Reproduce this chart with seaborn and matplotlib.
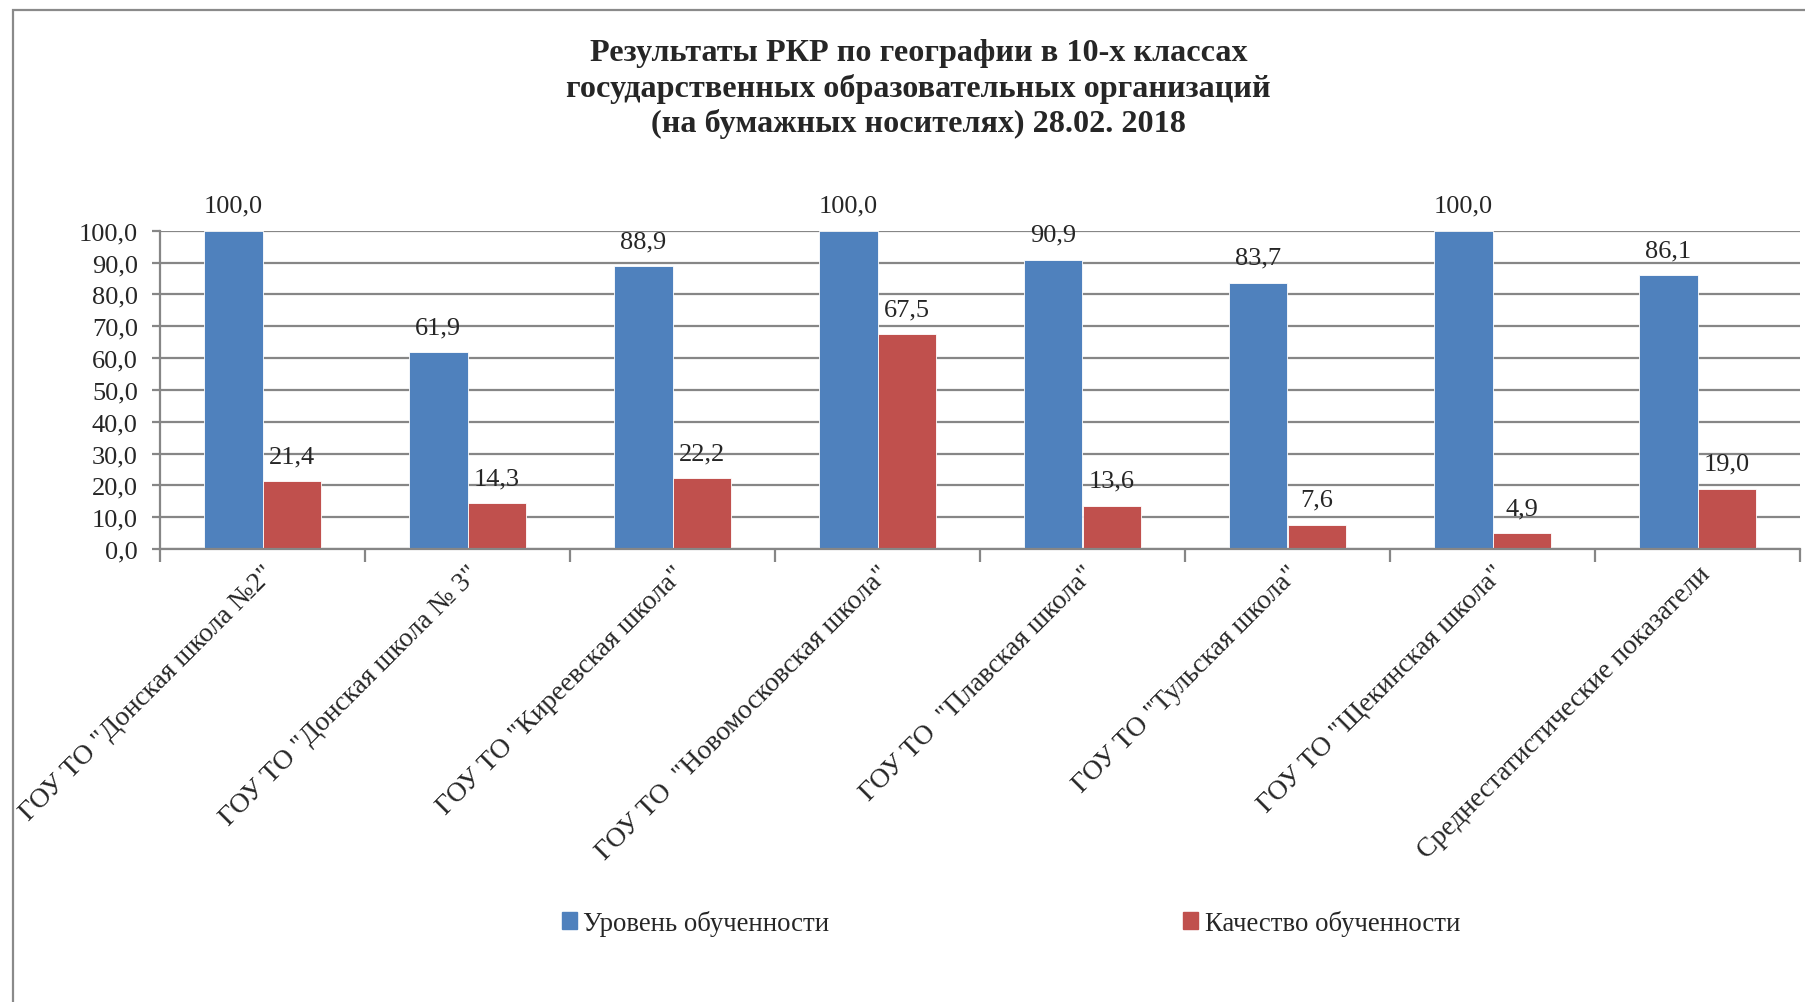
import pandas as pd
import seaborn as sns
import matplotlib.pyplot as plt
import matplotlib.ticker as ticker
from matplotlib.patches import Rectangle
from matplotlib.transforms import ScaledTranslation

schools = [
    'ГОУ ТО "Донская школа №2"',
    'ГОУ ТО "Донская школа № 3"',
    'ГОУ ТО "Киреевская школа"',
    'ГОУ ТО  "Новомосковская школа"',
    'ГОУ ТО  "Плавская школа"',
    'ГОУ ТО "Тульская школа"',
    'ГОУ ТО "Щекинская школа"',
    'Среднестатистические показатели',
]
level = [100.0, 61.9, 88.9, 100.0, 90.9, 83.7, 100.0, 86.1]
quality = [21.4, 14.3, 22.2, 67.5, 13.6, 7.6, 4.9, 19.0]
series = ['Уровень обученности', 'Качество обученности']
colors = ['#4F81BD', '#C0504D']
title = ('Результаты РКР по географии в 10-х классах\n'
         'государственных образовательных организаций\n'
         '(на бумажных носителях) 28.02. 2018')

sns.set_style("white")
plt.rcParams['font.family'] = ['Liberation Serif', 'DejaVu Serif']

data = pd.DataFrame({'Школа': schools, series[0]: level, series[1]: quality})
data = data.melt('Школа', var_name='Показатель', value_name='Значение')

fig = plt.figure(figsize=(18.05, 10.03), dpi=100)
ax = fig.add_axes([160 / 1805, 1 - 550 / 1003, 1640 / 1805, 318.3 / 1003])

sns.barplot(data=data, x='Школа', y='Значение', hue='Показатель',
            palette=colors, saturation=1, width=0.57, gap=0, ax=ax, legend=False,
            edgecolor='white', linewidth=0.6)

ax.set_ylim(0, 100)
ax.set_xlim(-0.5, len(schools) - 0.5)
ax.set_xlabel('')
ax.set_ylabel('')

ax.yaxis.set_major_locator(ticker.MultipleLocator(10))
ax.yaxis.set_major_formatter(ticker.FuncFormatter(lambda v, p: f'{v:.1f}'.replace('.', ',')))
ax.grid(axis='y', color='#868686', linewidth=1.6)
ax.set_axisbelow(True)
for side in ['top', 'right']:
    ax.spines[side].set_visible(False)
for side in ['left', 'bottom']:
    ax.spines[side].set_color('#868686')
    ax.spines[side].set_linewidth(1.6)

ax.tick_params(axis='y', left=True, length=6, width=1.6, color='#868686', pad=10, labelsize=19)
ax.tick_params(axis='x', which='major', length=0, pad=15, labelsize=19.8)
ax.xaxis.set_minor_locator(ticker.FixedLocator([i - 0.5 for i in range(len(schools) + 1)]))
ax.tick_params(axis='x', which='minor', bottom=True, length=9, width=1.6, color='#868686')

ax.set_xticks(range(len(schools)))
ax.set_xticklabels(schools, rotation=45, ha='right', va='center', rotation_mode='anchor')
shift = ScaledTranslation(6 / 72, 0, fig.dpi_scale_trans)
for lab in ax.get_xticklabels():
    lab.set_transform(lab.get_transform() + shift)

for cont in ax.containers:
    ax.bar_label(cont, fmt=lambda v: f'{v:.1f}'.replace('.', ','), padding=10, fontsize=19)

fig.text(0.509, 1 - 39.5 / 1003, title, ha='center', va='top', fontsize=23.2,
         fontweight='bold', linespacing=1.22)

handles = [Rectangle((0, 0), 1, 1, color=c) for c in colors]
fig.legend(handles, series, loc='center', bbox_to_anchor=(1011 / 1805, 1 - 924 / 1003),
           ncol=2, frameon=False, fontsize=19.3, handlelength=0.55, handleheight=0.55,
           handletextpad=0.25, columnspacing=13.2)

fig.patches.append(Rectangle((13 / 1805, -0.1), 1.2, 1.1 - 11 / 1003,
                             transform=fig.transFigure, fill=False,
                             edgecolor='#8a8a8a', linewidth=1.6))

fig.savefig('out.png', dpi=100)
